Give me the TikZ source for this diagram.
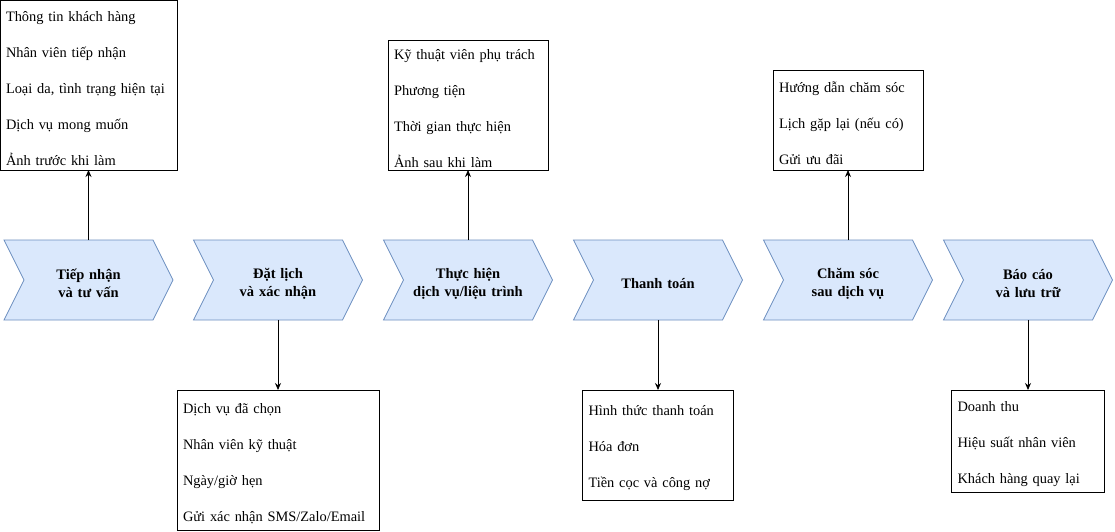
\documentclass[tikz,border=0pt]{standalone}
\usepackage{fontspec}
\setmainfont{Liberation Serif}
\usetikzlibrary{positioning}
\usetikzlibrary{shapes.symbols}
\usetikzlibrary{arrows.meta}
\definecolor{stagefill}{HTML}{DAE8FC}
\definecolor{stageline}{HTML}{6C8EBF}

\begin{document}
\begin{tikzpicture}
[   x=1pt, y=-1pt,
    on grid,
    stage/.style={signal, signal to=east, signal from=west,
        signal pointer angle=126.87,
        draw=stageline, fill=stagefill, line width=0.8pt,
        minimum width=169pt, minimum height=80pt,
        inner sep=0pt, outer sep=0pt, align=center,
        text width=120pt, text height=18pt,
        font=\fontsize{14.5}{18}\selectfont\bfseries},
    note/.style={draw, line width=0.8pt, inner xsep=6pt, inner ysep=0pt,
        outer sep=0pt, align=left, text height=17pt,
        font=\fontsize{14.4}{36}\selectfont},
    link/.style={-{Stealth[length=7pt,width=6pt]}, line width=0.8pt}
]
\useasboundingbox (0,0) rectangle (1115,532);

\node[stage] (s1) at (88.5,280) {Tiếp nhận\\và tư vấn};
\node[stage, right=189.5pt of s1] (s2) {Đặt lịch\\và xác nhận};
\node[stage, right=190pt of s2] (s3) {Thực hiện\\dịch vụ/liệu trình};
\node[stage, right=190pt of s3] (s4) {Thanh toán};
\node[stage, right=190pt of s4] (s5) {Chăm sóc\\sau dịch vụ};
\node[stage, right=180pt of s5] (s6) {Báo cáo\\và lưu trữ};

\node[note, above=70pt of s1.north, anchor=south, text width=165pt, minimum height=170pt] (n1)
    {Thông tin khách hàng\\Nhân viên tiếp nhận\\Loại da, tình trạng hiện tại\\Dịch vụ mong muốn\\Ảnh trước khi làm};
\node[note, below=70pt of s2.south, anchor=north, text width=190pt, minimum height=140pt] (n2)
    {Dịch vụ đã chọn\\Nhân viên kỹ thuật\\Ngày/giờ hẹn\\Gửi xác nhận SMS/Zalo/Email};
\node[note, above=70pt of s3.north, anchor=south, text width=148pt, minimum height=130pt] (n3)
    {Kỹ thuật viên phụ trách\\Phương tiện\\Thời gian thực hiện\\Ảnh sau khi làm};
\node[note, below=70pt of s4.south, anchor=north, text width=139pt, minimum height=110pt] (n4)
    {Hình thức thanh toán\\Hóa đơn\\Tiền cọc và công nợ};
\node[note, above=70pt of s5.north, anchor=south, text width=138pt, minimum height=100pt] (n5)
    {Hướng dẫn chăm sóc\\Lịch gặp lại (nếu có)\\Gửi ưu đãi};
\node[note, below=70pt of s6.south, anchor=north, text width=141pt, minimum height=102pt] (n6)
    {Doanh thu\\Hiệu suất nhân viên\\Khách hàng quay lại};

\draw[link] (s1.north) -- (n1.south);
\draw[link] (s2.south) -- (n2.north);
\draw[link] (s3.north) -- (n3.south);
\draw[link] (s4.south) -- (n4.north);
\draw[link] (s5.north) -- (n5.south);
\draw[link] (s6.south) -- (n6.north);
\end{tikzpicture}
\end{document}
